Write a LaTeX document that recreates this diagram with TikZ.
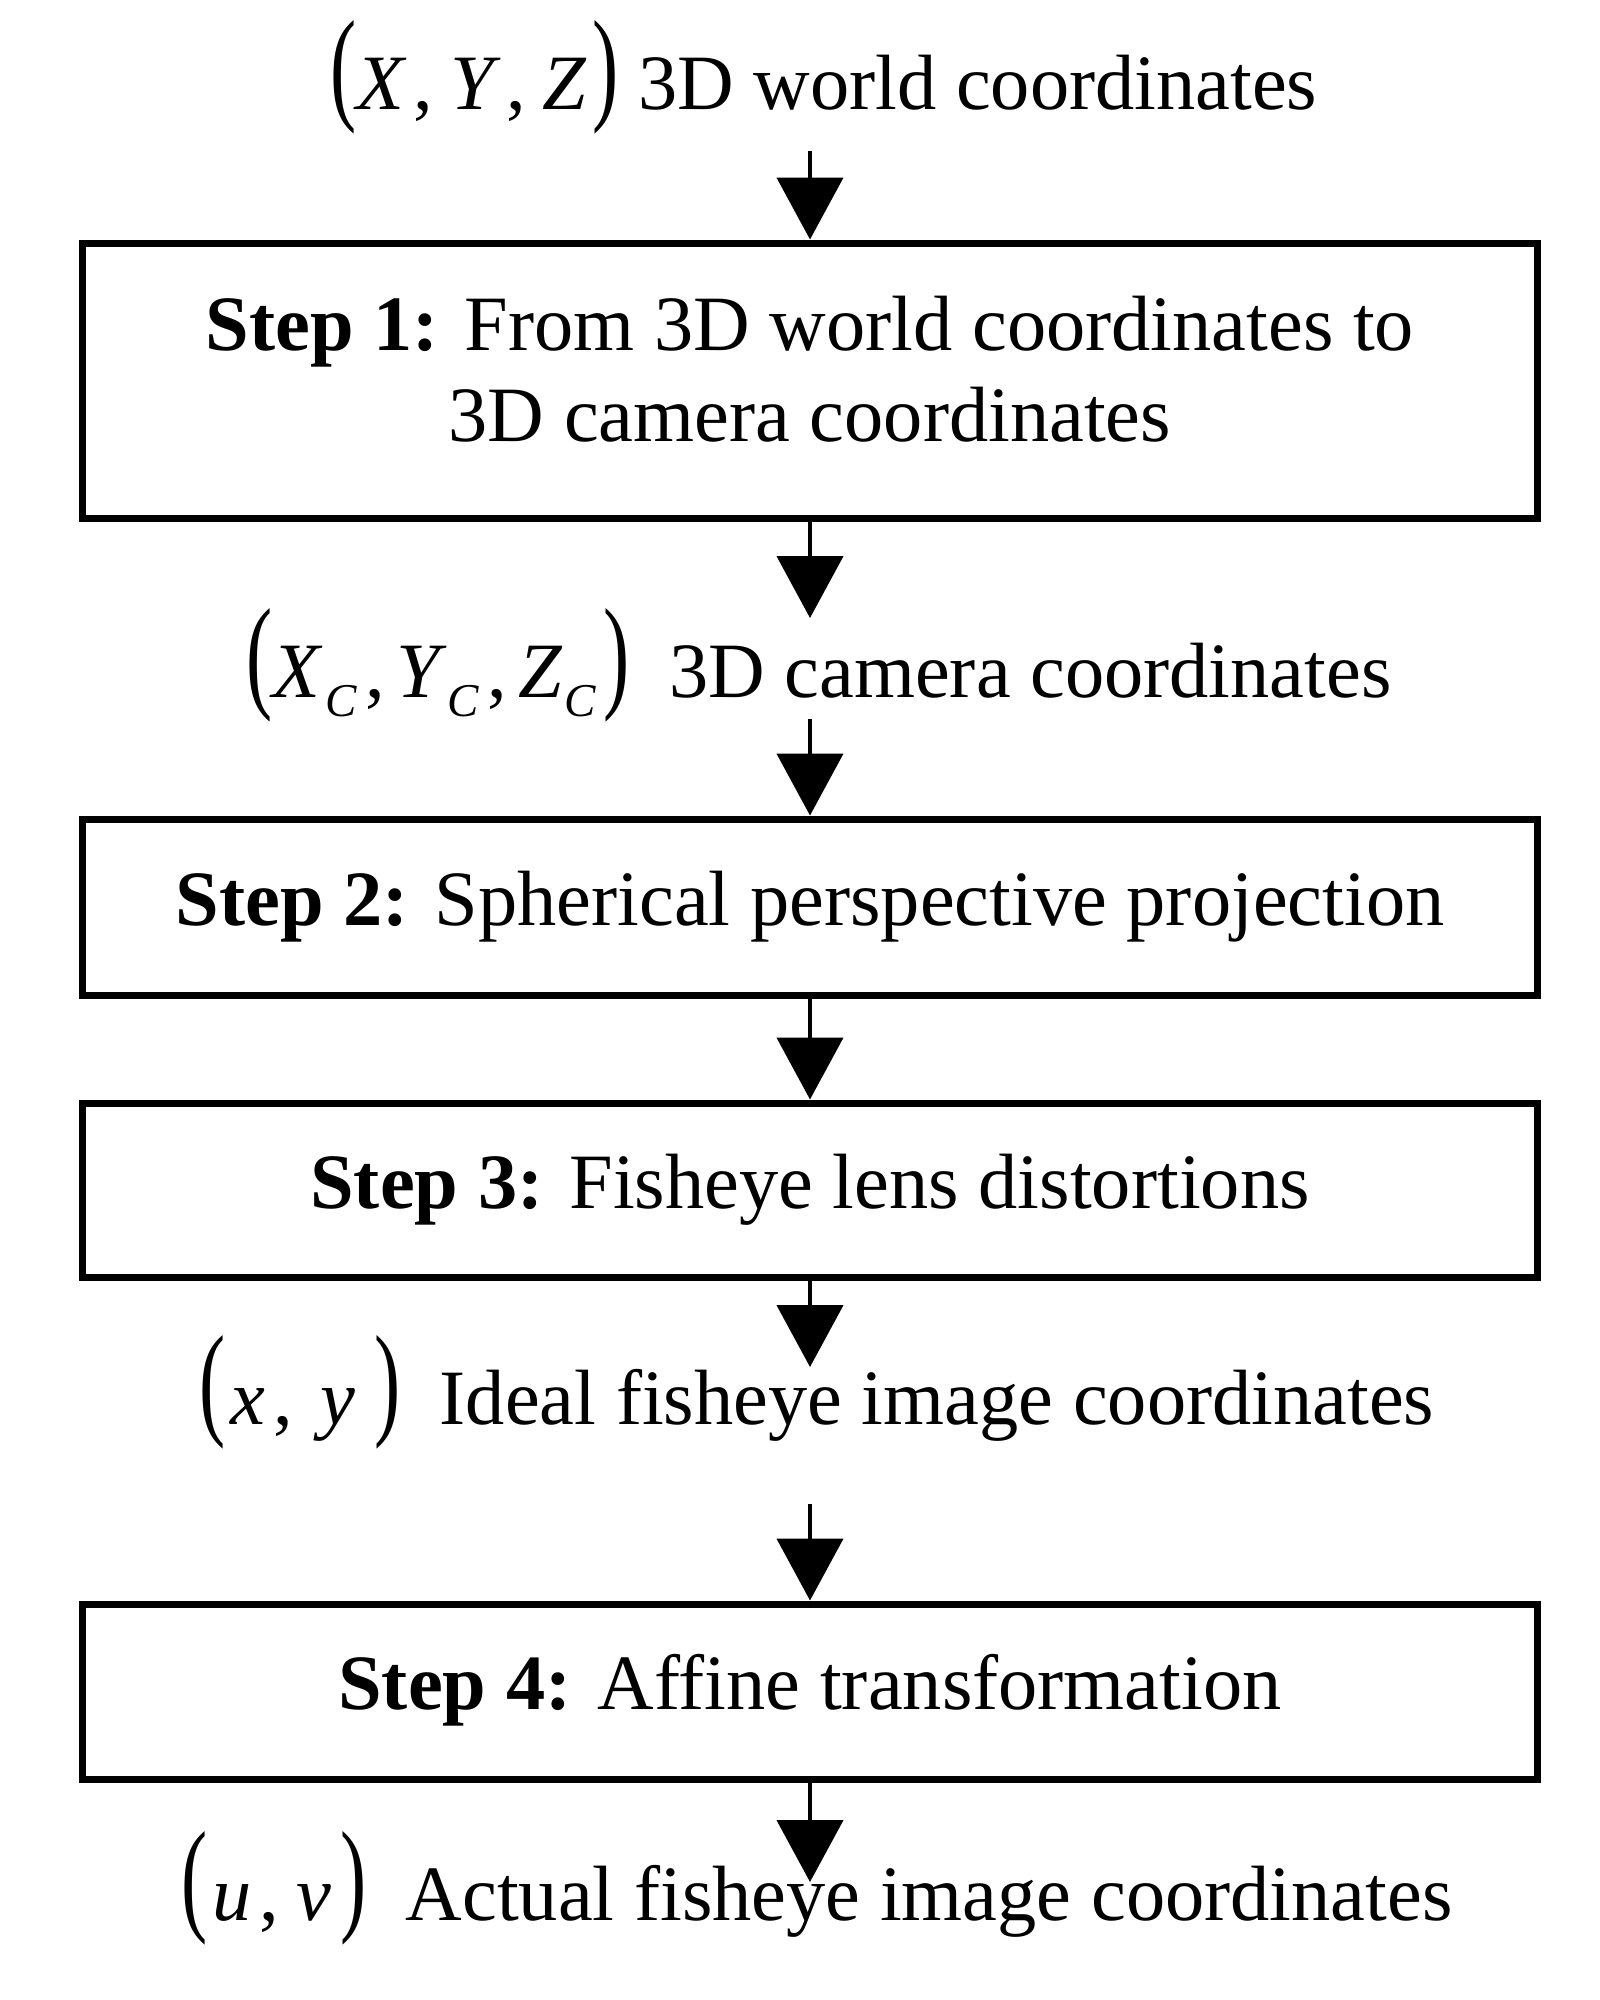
\documentclass[tikz,border=0pt]{standalone}
\usepackage{fontspec}
\setmainfont{Liberation Serif}
\usepackage{graphicx}
\usetikzlibrary{arrows.meta}
\newcommand{\lpar}{\raisebox{0.02em}{\scalebox{1}[1.6]{(}}}
\newcommand{\rpar}{\raisebox{0.02em}{\scalebox{1}[1.6]{)}}}
\newcommand{\subc}{\raisebox{-0.25em}{\scalebox{0.6}{\textit{C}}}}
\tikzset{
  txt/.style={font=\fontsize{22.3}{26}\selectfont, inner sep=0pt},
  stepbox/.style={draw, line width=0.07cm, minimum width=14.55cm, inner sep=0pt,
    font=\fontsize{22.3}{26}\selectfont},
  onel/.style={text height=0.51cm, text depth=0.15cm},
  arr/.style={line width=0.045cm, -{Triangle[width=0.66cm,length=0.62cm]}}
}
\begin{document}
\begin{tikzpicture}
\useasboundingbox (0,0) rectangle (16,-20);
% labels
\node[txt, anchor=base] (t0) at (8.24,-1.09)
  {\lpar\textit{X}\kern0.08em,\kern0.22em\textit{Y}\kern0.08em,\kern0.2em\textit{Z}\kern0.08em\rpar\ 3D world coordinates};
\node[txt, anchor=base] (l2) at (8.19,-6.97)
  {\lpar\textit{X}\kern0.04em\subc\kern0.1em,\kern0.15em\textit{Y}\subc\kern0.1em,\kern0.15em\textit{Z}\kern0.02em\subc\kern0.1em\rpar\ \ 3D camera coordinates};
\node[txt, anchor=base] (l3) at (8.17,-14.24)
  {\lpar\kern0.06em\textit{x}\kern0.1em,\kern0.35em\textit{y}\kern0.25em\rpar\ \ Ideal fisheye image coordinates};
\node[txt, anchor=base] (l4) at (8.17,-19.20)
  {\lpar\kern0.06em\textit{u}\kern0.1em,\kern0.22em\textit{v}\kern0.12em\rpar\ \ Actual fisheye image coordinates};
% boxes
\node[stepbox, minimum height=2.75cm, align=center] (b1) at (8.10,-3.805)
  {\textbf{Step 1:} From 3D world coordinates to\\3D camera coordinates\rule[-0.23cm]{0pt}{0pt}};
\node[stepbox, onel, minimum height=1.76cm] (b2) at (8.10,-9.07)
  {\textbf{Step 2:} Spherical perspective projection};
\node[stepbox, onel, minimum height=1.74cm] (b3) at (8.10,-11.90)
  {\textbf{Step 3:} Fisheye lens distortions};
\node[stepbox, onel, minimum height=1.75cm] (b4) at (8.10,-16.915)
  {\textbf{Step 4:} Affine transformation};
% free ends
\coordinate (s1) at (8.10,-1.51);
\coordinate (e2) at (8.10,-6.18);
\coordinate (s3) at (8.10,-7.19);
\coordinate (e5) at (8.10,-13.67);
\coordinate (s6) at (8.10,-15.04);
\coordinate (e7) at (8.10,-18.82);
% arrows
\draw[arr] (s1) -- (b1.north);
\draw[arr] (b1.south) -- (e2);
\draw[arr] (s3) -- (b2.north);
\draw[arr] (b2.south) -- (b3.north);
\draw[arr] (b3.south) -- (e5);
\draw[arr] (s6) -- (b4.north);
\draw[arr] (b4.south) -- (e7);
\end{tikzpicture}
\end{document}
